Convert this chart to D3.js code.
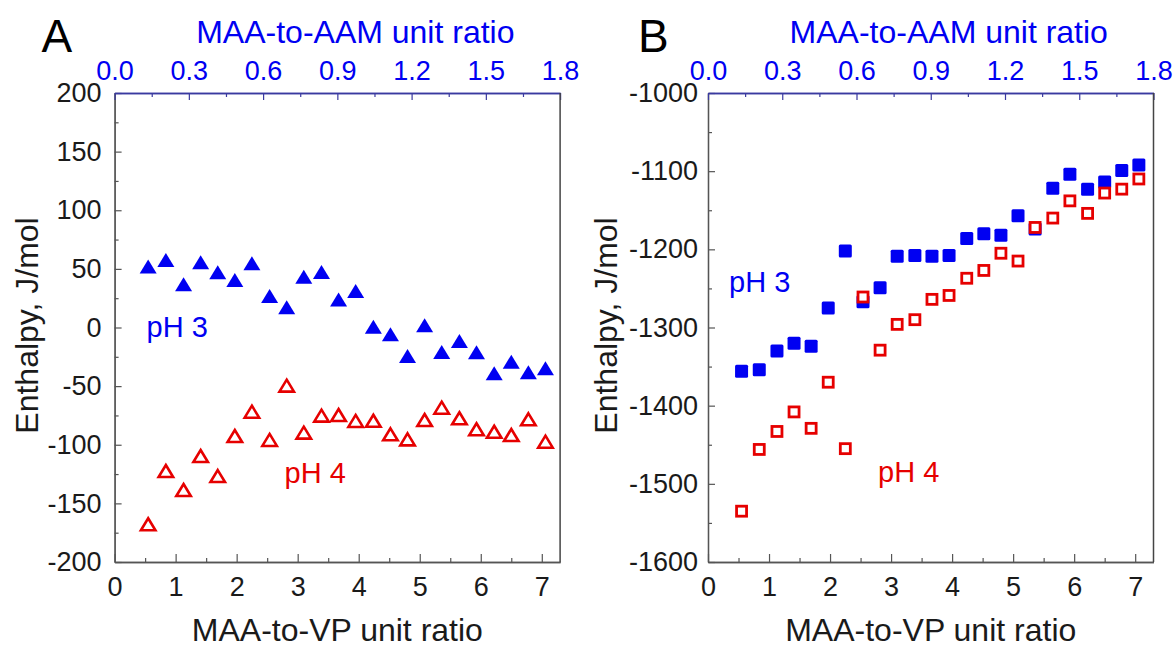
<!DOCTYPE html>
<html>
<head>
<meta charset="utf-8">
<script src="https://cdn.jsdelivr.net/npm/d3@7"></script>
<style>
  html,body{margin:0;padding:0;background:#fff;}
  svg text{font-family:"Liberation Sans",Arial,sans-serif;}
</style>
</head>
<body>
<div id="chart"></div>
<script>
// MAA-to-VP unit ratio, shared by every series
const vpRatio=[0.55,0.84,1.13,1.41,1.69,1.97,2.25,2.54,2.82,3.10,3.39,3.67,3.95,4.24,4.52,4.80,5.08,5.36,5.65,5.93,6.22,6.50,6.78,7.06];
// panel A, enthalpy J/mol
const aPH3=[52,57.6,36.8,55.6,47.1,40.5,54.8,26.9,17.2,43.3,47.3,23.9,31.1,0.7,-5.8,-24.3,1.9,-20.9,-11.5,-21.2,-39.1,-29.2,-38.2,-34.8];
const aPH4=[-167.8,-122.4,-138.6,-109.6,-126.7,-92.5,-71.8,-95.9,-49.6,-89.7,-75.2,-74.6,-79.7,-79.5,-91.1,-95.4,-78.9,-68.4,-77.4,-86.8,-88.9,-91.7,-78.3,-97.4];
// panel B, enthalpy J/mol
const bPH3=[-1356,-1354,-1330,-1320,-1324,-1275,-1202,-1267,-1249,-1209,-1208,-1209,-1208,-1186,-1180,-1182,-1157,-1174,-1122,-1104,-1123,-1114,-1099,-1092];
const bPH4=[-1535,-1456,-1433,-1408,-1429,-1370,-1455,-1261,-1329,-1296,-1290,-1264,-1259,-1237,-1227,-1205,-1215,-1172,-1160,-1138,-1154,-1128,-1123,-1110];
// tick values
const bottomTicks=[0,1,2,3,4,5,6,7];
const bottomMinor=[0.5,1.5,2.5,3.5,4.5,5.5,6.5];
const topTicks=[0,0.3,0.6,0.9,1.2,1.5,1.8];
const topMinor=[0.15,0.45,0.75,1.05,1.35,1.65];
const aYTicks=[-200,-150,-100,-50,0,50,100,150,200];
const aYMinor=[-175,-125,-75,-25,25,75,125,175];
const bYTicks=[-1600,-1500,-1400,-1300,-1200,-1100,-1000];
const bYMinor=[-1550,-1450,-1350,-1250,-1150,-1050];

const W=1175,H=647;
const blue="#0000f2", red="#e60000", ink="#1a1a1a", navy="#3a3aa0";
const svg=d3.select("#chart").append("svg").attr("width",W).attr("height",H);
const plain=d=>String(d); // keep ascii hyphen for negatives

function panel(o){
  const w=445.5, h=469;
  const g=svg.append("g").attr("transform",`translate(${o.left},93)`);
  const x=d3.scaleLinear().domain([0,7.3]).range([0,w]);
  const xt=d3.scaleLinear().domain([0,1.8]).range([0,w]);
  const y=d3.scaleLinear().domain(o.yDomain).range([h,0]);
  const style=(s,col)=>{
    s.select(".domain").attr("stroke",col).attr("stroke-width",1.3);
    s.selectAll("line").attr("stroke",col).attr("stroke-width",1.2);
    s.selectAll("text").attr("font-size",27).attr("fill",col===navy?blue:ink)
      .attr("font-family","Liberation Sans, Arial, sans-serif");
  };
  // bottom
  g.append("g").attr("transform",`translate(0,${h})`)
    .call(d3.axisBottom(x).tickValues(bottomMinor).tickSize(-4).tickSizeOuter(0).tickFormat(""))
    .call(s=>style(s,"#555"));
  g.append("g").attr("transform",`translate(0,${h})`)
    .call(d3.axisBottom(x).tickValues(bottomTicks).tickSize(-8).tickSizeOuter(0).tickPadding(15).tickFormat(plain))
    .call(s=>style(s,"#555"));
  // left
  g.append("g")
    .call(d3.axisLeft(y).tickValues(o.yMinor).tickSize(-4).tickSizeOuter(0).tickFormat(""))
    .call(s=>style(s,"#555"));
  g.append("g")
    .call(d3.axisLeft(y).tickValues(o.yTicks).tickSize(-7).tickSizeOuter(0).tickPadding(o.yPad).tickFormat(plain))
    .call(s=>style(s,"#555"));
  // top (secondary axis)
  g.append("g")
    .call(d3.axisTop(xt).tickValues(topMinor).tickSize(-4).tickSizeOuter(0).tickFormat(""))
    .call(s=>style(s,navy));
  g.append("g")
    .call(d3.axisTop(xt).tickValues(topTicks).tickSize(-7).tickSizeOuter(0).tickPadding(13).tickFormat(d3.format(".1f")))
    .call(s=>style(s,navy));
  // right frame
  g.append("line").attr("x1",w).attr("x2",w).attr("y1",0).attr("y2",h)
    .attr("stroke","#444").attr("stroke-width",1.5);

  const pts3=vpRatio.map((v,i)=>({x:v,y:o.s3[i]}));
  const pts4=vpRatio.map((v,i)=>({x:v,y:o.s4[i]}));
  if(o.marker==="tri"){
    const tri=(tw,th)=>`M0,${-th/2}L${tw/2},${th/2}L${-tw/2},${th/2}Z`;
    g.selectAll(".p3").data(pts3).join("path").attr("class","p3")
      .attr("transform",d=>`translate(${x(d.x)},${y(d.y)})`)
      .attr("d",tri(17,14)).attr("fill",blue);
    g.selectAll(".p4").data(pts4).join("path").attr("class","p4")
      .attr("transform",d=>`translate(${x(d.x)},${y(d.y)})`)
      .attr("d",tri(14.5,12)).attr("fill","#fff").attr("stroke",red)
      .attr("stroke-width",2.6).attr("stroke-linejoin","miter");
  } else {
    g.selectAll(".p3").data(pts3).join("rect").attr("class","p3")
      .attr("x",d=>x(d.x)-6.5).attr("y",d=>y(d.y)-6.5).attr("width",13).attr("height",13)
      .attr("rx",1.5).attr("fill",blue);
    g.selectAll(".p4").data(pts4).join("rect").attr("class","p4")
      .attr("x",d=>x(d.x)-5).attr("y",d=>y(d.y)-5).attr("width",10).attr("height",10)
      .attr("fill","#fff").attr("stroke",red).attr("stroke-width",2.8);
  }
  // series labels
  g.append("text").attr("x",o.lab3[0]).attr("y",o.lab3[1]).attr("font-size",29).attr("fill",blue).text("pH 3");
  g.append("text").attr("x",o.lab4[0]).attr("y",o.lab4[1]).attr("font-size",29).attr("fill",red).text("pH 4");
  // titles
  g.append("text").attr("x",w/2).attr("y",h+79).attr("text-anchor","middle")
    .attr("font-size",32).attr("fill",ink).text("MAA-to-VP unit ratio");
  g.append("text").attr("x",w/2+18).attr("y",-50).attr("text-anchor","middle")
    .attr("font-size",32).attr("fill",blue).text("MAA-to-AAM unit ratio");
  g.append("text").attr("transform",`translate(${o.yTitleX},${h/2-2}) rotate(-90)`)
    .attr("text-anchor","middle").attr("font-size",32).attr("fill",ink).text("Enthalpy, J/mol");
  g.append("text").attr("x",o.letterX).attr("y",-41).attr("font-size",46).attr("fill","#000").text(o.letter);
}

panel({left:114.6,yDomain:[-200,200],yTicks:aYTicks,yMinor:aYMinor,yPad:13,s3:aPH3,s4:aPH4,marker:"tri",
  lab3:[32,244],lab4:[170,390],yTitleX:-77,letter:"A",letterX:-73});
panel({left:708,yDomain:[-1600,-1000],yTicks:bYTicks,yMinor:bYMinor,yPad:10,s3:bPH3,s4:bPH4,marker:"sq",
  lab3:[21,199],lab4:[170,389],yTitleX:-91,letter:"B",letterX:-70});
</script>
</body>
</html>
